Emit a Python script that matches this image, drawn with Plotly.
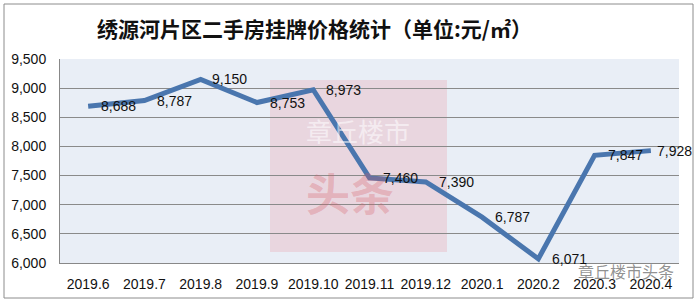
import plotly.graph_objects as go

categories = ["2019.6", "2019.7", "2019.8", "2019.9", "2019.10", "2019.11",
              "2019.12", "2020.1", "2020.2", "2020.3", "2020.4"]
prices = [8688, 8787, 9150, 8753, 8973, 7460, 7390, 6787, 6071, 7847, 7928]
labels = [f"{v:,}" for v in prices]
y_ticks = [6000, 6500, 7000, 7500, 8000, 8500, 9000, 9500]
title_text = "绣源河片区二手房挂牌价格统计（单位:元/㎡）"

W, H = 699, 305
L, R, T, B = 60, 20, 59, 42
pw, ph = W - L - R, H - T - B

def px(xp):
    return (xp - L) / pw

def py(yp):
    return (H - B - yp) / ph

fig = go.Figure()
fig.add_trace(go.Scatter(
    x=categories, y=prices, mode="lines",
    line=dict(color="#4a76ae", width=5),
    hoverinfo="skip", showlegend=False,
))

label_shift = [11, 11, 9, 11, 11, 11, 11, 11, 12, 11, 4]
annotations = []
for i, (v, t, s) in enumerate(zip(prices, labels, label_shift)):
    annotations.append(dict(
        x=i, y=v, xref="x", yref="y", text=t, showarrow=False,
        xanchor="left", yanchor="middle", xshift=s,
        font=dict(family="Liberation Sans, Arial", size=14, color="#111")))

shapes = [
    dict(type="rect", xref="paper", yref="paper", x0=px(4), x1=px(693), y0=py(298), y1=py(4),
         line=dict(color="#8c8c8c", width=1), fillcolor="rgba(0,0,0,0)", layer="below"),
    dict(type="rect", xref="paper", yref="paper", x0=px(270), x1=px(447), y0=py(252), y1=py(80),
         line=dict(width=0), fillcolor="rgba(235,170,180,0.35)", layer="below"),
]

annotations += [
    dict(text="<b>" + title_text + "</b>", xref="paper", yref="paper", x=px(314), y=py(28),
         showarrow=False, font=dict(family="Noto Sans CJK SC", size=21, color="#111"),
         xanchor="center", yanchor="middle"),
    dict(text="章丘楼市", xref="paper", yref="paper", x=px(358), y=py(130),
         showarrow=False, font=dict(family="Noto Sans CJK SC", size=26, color="rgba(255,255,255,0.55)")),
    dict(text="<b>头条</b>", xref="paper", yref="paper", x=px(350), y=py(192),
         showarrow=False, font=dict(family="Noto Sans CJK SC", size=44, color="rgba(215,90,100,0.3)")),
    dict(text="章丘楼市头条", xref="paper", yref="paper", x=px(626), y=py(271),
         xanchor="center", yanchor="middle",
         showarrow=False, font=dict(family="Noto Sans CJK SC", size=16, color="rgba(110,110,110,0.75)")),
]

fig.update_layout(
    width=W, height=H,
    margin=dict(l=L, r=R, t=T, b=B),
    paper_bgcolor="white",
    plot_bgcolor="#e9eef6",
    shapes=shapes, annotations=annotations,
    xaxis=dict(type="category", showgrid=False, showline=True, linecolor="#888",
               ticks="", ticklabelstandoff=8,
               tickfont=dict(family="Liberation Sans, Arial", size=14, color="#111"),
               range=[-0.5, len(categories) - 0.5], fixedrange=True),
    yaxis=dict(range=[6000, 9500], tickvals=y_ticks, ticktext=[f"{v:,}" for v in y_ticks],
               showgrid=True, gridcolor="#8a8a8a", gridwidth=1, showline=True, linecolor="#888",
               zeroline=False, ticks="", ticklabelstandoff=10,
               tickfont=dict(family="Liberation Sans, Arial", size=14, color="#111"),
               fixedrange=True),
)
fig.write_html("out.html")
